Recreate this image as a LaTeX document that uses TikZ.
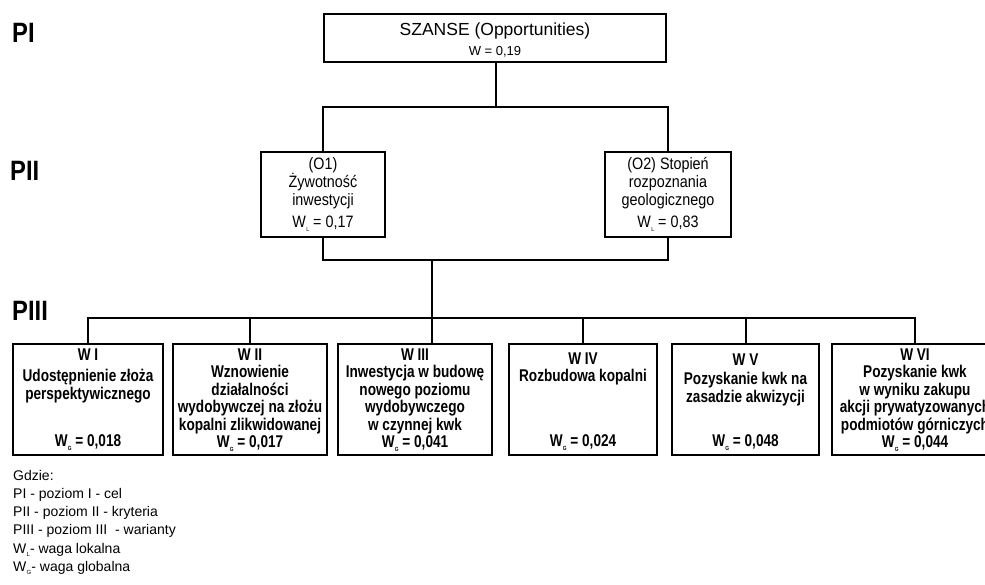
\documentclass[tikz,border=0pt]{standalone}
\usepackage{fontspec}
\setmainfont{Liberation Sans}
\newfontfamily\narrowfont{Liberation Sans}[FakeStretch=0.87]
\newfontfamily\varfont{Liberation Sans}[FakeStretch=0.8]
\newfontfamily\levelfont{Liberation Sans}[FakeStretch=0.85]
\usetikzlibrary{positioning}
\newcommand{\wsub}[1]{W\kern0.3pt\raisebox{-0.4ex}{\fontsize{6}{6}\selectfont #1}}
\newcommand{\wbox}[3]{\begin{minipage}[c][102pt][t]{#1}\centering #2\par\vfill \wsub{G} = #3\end{minipage}}
\tikzset{
	levellabel/.style={
		anchor=base west,
		inner sep=0pt,
		font=\levelfont\bfseries\fontsize{28}{28}\selectfont},
	goalbox/.style={
		rectangle,
		draw=black, line width=2pt,
		minimum width=342pt,
		minimum height=48pt,
		inner sep=0pt,
		font=\fontsize{17.5}{20}\selectfont},
	critbox/.style={
		rectangle,
		draw=black, line width=1.5pt,
		minimum height=85pt,
		inner sep=0pt,
		align=center,
		font=\narrowfont\fontsize{16.5}{18}\selectfont},
	varbox/.style={
		rectangle,
		draw=black, line width=1.8pt,
		minimum height=111pt,
		inner sep=0pt,
		font=\varfont\bfseries\fontsize{17}{17.5}\selectfont},
	legendtext/.style={
		anchor=north west,
		inner sep=0pt,
		align=left,
		font=\fontsize{14}{18.2}\selectfont},
	conn/.style={draw, line width=2pt},
}
\begin{document}
\begin{tikzpicture}[x=1pt, y=-1pt]
	\useasboundingbox (0,0) rectangle (985,584);
	\node[levellabel] (pI) at (12,42) {PI};
	\node[levellabel] (pII) at (10,180) {PII};
	\node[levellabel] (pIII) at (12,320) {PIII};
	% cel
	\node[goalbox] (goal) at (495,38) {\begin{minipage}[c][48pt][t]{330pt}\centering\vspace*{9pt}SZANSE (Opportunities)\\\fontsize{13}{20}\selectfont W = 0,19\end{minipage}};
	% kryteria
	\node[critbox, minimum width=124pt] (o1) at (323,194.5) {(O1)\\Żywotność\\inwestycji\\[4pt]\wsub{L} = 0,17};
	\node[critbox, minimum width=126pt] (o2) at (668,194.5) {(O2) Stopień\\rozpoznania\\geologicznego\\[4pt]\wsub{L} = 0,83};
	% warianty
	\node[varbox, minimum width=150pt] (w1) at (88,399.5) {\wbox{146pt}{W I\\[4pt]Udostępnienie złoża\\perspektywicznego}{0,018}};
	\node[varbox, minimum width=154pt] (w2) at (250,399.5) {\wbox{150pt}{W II\\Wznowienie\\działalności\\wydobywczej na złożu\\kopalni zlikwidowanej}{0,017}};
	\node[varbox, minimum width=154pt] (w3) at (415,399.5) {\wbox{150pt}{W III\\Inwestycja w budowę\\nowego poziomu\\wydobywczego\\w czynnej kwk}{0,041}};
	\node[varbox, minimum width=148pt] (w4) at (583,399.5) {\wbox{144pt}{\vspace*{4pt}W IV\\Rozbudowa kopalni}{0,024}};
	\node[varbox, minimum width=147pt] (w5) at (745.5,399.5) {\wbox{143pt}{\vspace*{5pt}W V\\[2pt]Pozyskanie kwk na\\zasadzie akwizycji}{0,048}};
	\node[varbox, minimum width=166pt] (w6) at (915,399.5) {\wbox{162pt}{W VI\\Pozyskanie kwk\\w wyniku zakupu\\akcji prywatyzowanych\\podmiotów górniczych}{0,044}};
	% polaczenia
	\coordinate (j1) at (496,107);
	\coordinate (j2) at (432,260);
	\coordinate (j3) at (432,318);
	\draw[conn] (goal.south -| j1) -- (j1);
	\draw[conn] (o1.north) |- (j1) -| (o2.north);
	\draw[conn] (o1.south) |- (j2) -| (o2.south);
	\draw[conn] (j2) -- (j3);
	\draw[conn] (w1.north) |- (j3) -| (w6.north);
	\draw[conn] (j3) -- (j3 |- w3.north);
	\foreach \w in {w2,w4,w5}
		\draw[conn] (\w.north) -- (\w.north |- j3);
	% legenda
	\node[legendtext] (legend) at (13,470) {Gdzie:\\PI - poziom I - cel\\PII - poziom II - kryteria\\PIII - poziom III \ - warianty\\\wsub{L}- waga lokalna\\\wsub{G}- waga globalna};
\end{tikzpicture}
\end{document}
